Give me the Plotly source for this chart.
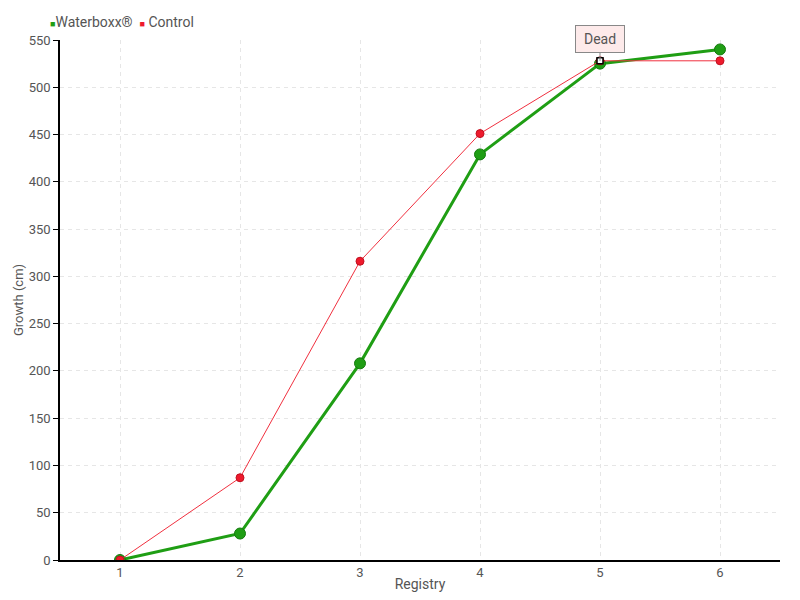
import plotly.graph_objects as go

registry = [1, 2, 3, 4, 5, 6]
waterboxx = [0, 28, 208, 429, 525, 540]
control = [0, 87, 316, 451, 528, 528]
y_ticks = list(range(0, 551, 50))
series_names = ["Waterboxx®", "Control"]

FONT = "Roboto, sans-serif"
TXT = "#555555"
GREEN = "#1f9e14"
RED = "#ee1a2c"

fig = go.Figure()
fig.add_trace(go.Scatter(
    x=registry, y=waterboxx, name=series_names[0], mode="lines+markers",
    line=dict(color=GREEN, width=3),
    marker=dict(size=11, color=GREEN, line=dict(color="#157a0e", width=1)),
))
fig.add_trace(go.Scatter(
    x=registry, y=control, name=series_names[1], mode="lines+markers",
    line=dict(color="#f0303f", width=1),
    marker=dict(size=8, color=RED, line=dict(color="#c01020", width=1)),
))
# marker for the Dead point
fig.add_trace(go.Scatter(
    x=[registry[4]], y=[control[4]], mode="markers", showlegend=False,
    marker=dict(symbol="square", size=6, color="white", line=dict(color="black", width=1.5)),
    hoverinfo="skip",
))
fig.add_annotation(
    x=registry[4], y=control[4], text="Dead", showarrow=True,
    arrowhead=0, arrowwidth=1, arrowcolor="#888888", ax=0, ay=-22,
    bgcolor="#fdeaea", bordercolor="#888888", borderwidth=1, borderpad=4,
    width=40, height=18,
    font=dict(family=FONT, size=14, color=TXT),
)
# legend (square swatches directly before labels)
legend_text = (
    f'<span style="color:{GREEN};font-size:9px">■</span>{series_names[0]}&nbsp;&nbsp;'
    f'<span style="color:{RED};font-size:9px">■</span>&nbsp;{series_names[1]}'
)
fig.add_annotation(
    xref="paper", yref="paper", x=-0.016, y=1.0346, xanchor="left", yanchor="middle",
    text=legend_text, showarrow=False, font=dict(family=FONT, size=14, color=TXT),
)

# The page body has an 8px margin, so the figure is sized/margined to compensate
fig.update_layout(
    width=792, height=592,
    margin=dict(l=52, r=20, t=32, b=40, autoexpand=False),
    plot_bgcolor="white", paper_bgcolor="white",
    font=dict(family=FONT, size=14, color=TXT),
    showlegend=False,
)
fig.update_xaxes(
    title=dict(text="Registry", standoff=0, font=dict(family=FONT, size=14, color=TXT)),
    range=[0.5, 6.5], tickvals=registry, ticktext=[str(v) for v in registry],
    showline=True, linecolor="black", linewidth=1.5,
    ticks="", tickfont=dict(size=13),
    showgrid=True, gridcolor="#e6e6e6", griddash="4px,4px", zeroline=False,
)
fig.update_yaxes(
    title=dict(text="Growth (cm)", standoff=2, font=dict(family=FONT, size=13, color=TXT)),
    range=[0, 550], tickvals=y_ticks, tickfont=dict(size=13),
    showline=True, linecolor="black", linewidth=1.5,
    ticks="outside", ticklen=5, tickcolor="black",
    showgrid=True, gridcolor="#e6e6e6", griddash="4px,4px", zeroline=False,
)
fig.write_html("out.html")
